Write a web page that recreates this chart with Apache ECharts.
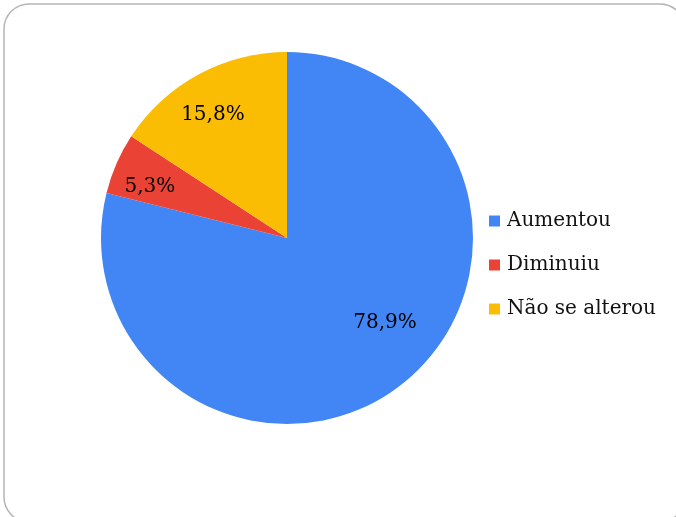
<!DOCTYPE html>
<html>
<head>
<meta charset="utf-8">
<script src="https://cdn.jsdelivr.net/npm/echarts@6/dist/echarts.min.js"></script>
<style>html,body{margin:0;padding:0;background:#fff}#c{width:676px;height:517px}</style>
</head>
<body>
<div id="c"></div>
<script>
var categories = ['Aumentou', 'Diminuiu', 'Não se alterou'];
var values = [78.9, 5.3, 15.8];
var labels = ['78,9%', '5,3%', '15,8%'];
var colors = ['#4285F4', '#EA4335', '#FBBC04'];

var chart = echarts.init(document.getElementById('c'));
var font = 'DejaVu Serif';
var labelOffsets = [[10, -28], [-6, 6], [-6, 3]];
var pieData = categories.map(function (c, i) {
  return { name: c, value: values[i], itemStyle: { color: colors[i] } };
});
var labelData = categories.map(function (c, i) {
  return { name: c, value: values[i], label: { formatter: labels[i], offset: labelOffsets[i] } };
});
chart.setOption({
  animation: false,
  graphic: [{
    type: 'rect', shape: { x: 4, y: 4, width: 681, height: 518, r: 25 },
    style: { fill: 'none', stroke: '#b5b5b5', lineWidth: 1.5 }, z: -10
  }],
  legend: {
    orient: 'vertical', left: 489, top: 211, padding: 0,
    itemWidth: 11, itemHeight: 11, itemGap: 24, icon: 'rect',
    data: categories,
    textStyle: { fontFamily: font, fontSize: 20, color: '#111', lineHeight: 20, padding: [0, 0, 0, 2] }
  },
  series: [{
    type: 'pie', radius: 186, center: [287, 238],
    startAngle: 90, clockwise: true,
    label: { show: false }, labelLine: { show: false },
    emphasis: { disabled: true },
    data: pieData
  }, {
    type: 'pie', radius: 280, center: [287, 238],
    startAngle: 90, clockwise: true, silent: true, z: 5,
    itemStyle: { color: 'rgba(0,0,0,0)' },
    label: { show: true, position: 'inside', fontFamily: font, fontSize: 20, color: '#000' },
    labelLine: { show: false },
    legendHoverLink: false,
    data: labelData
  }]
});
</script>
</body>
</html>
